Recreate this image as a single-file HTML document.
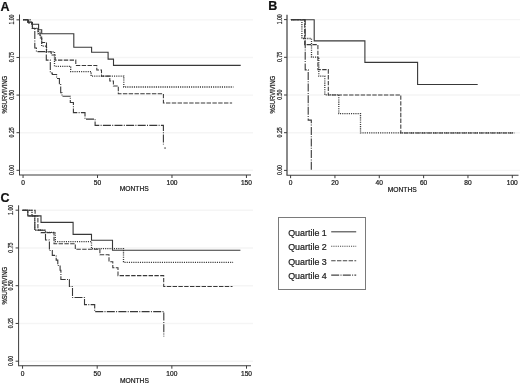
<!DOCTYPE html>
<html><head><meta charset="utf-8"><title>Survival curves</title>
<style>
html,body{margin:0;padding:0;background:#fff;width:520px;height:386px;overflow:hidden;}
svg{display:block;font-family:"Liberation Sans", sans-serif;will-change:transform;}
text{stroke:#1a1a1a;stroke-width:0.22px;}
</style></head>
<body>
<svg width="520" height="386" viewBox="0 0 520 386" font-family='"Liberation Sans", sans-serif'>
<rect width="520" height="386" fill="#fff"/>
<text x="0.6" y="11.3" font-size="12.5" font-weight="bold" fill="#111">A</text>
<line x1="20.0" y1="19.85" x2="253" y2="19.85" stroke="#f5f5f5" stroke-width="1.4"/>
<line x1="20.0" y1="57.46" x2="253" y2="57.46" stroke="#f5f5f5" stroke-width="1.4"/>
<line x1="20.0" y1="95.08" x2="253" y2="95.08" stroke="#f5f5f5" stroke-width="1.4"/>
<line x1="20.0" y1="132.69" x2="253" y2="132.69" stroke="#f5f5f5" stroke-width="1.4"/>
<line x1="20.0" y1="170.30" x2="253" y2="170.30" stroke="#f5f5f5" stroke-width="1.4"/>
<line x1="19.5" y1="14.5" x2="19.5" y2="175.0" stroke="#3c3c3c" stroke-width="1.0"/>
<line x1="19.0" y1="175.0" x2="251" y2="175.0" stroke="#3c3c3c" stroke-width="1.1"/>
<line x1="16.5" y1="19.85" x2="19.5" y2="19.85" stroke="#3c3c3c" stroke-width="1"/>
<text transform="translate(13.9 19.55) rotate(-90)" text-anchor="middle" font-size="6.9" fill="#1a1a1a" textLength="10" lengthAdjust="spacingAndGlyphs">1.00</text>
<line x1="16.5" y1="57.46" x2="19.5" y2="57.46" stroke="#3c3c3c" stroke-width="1"/>
<text transform="translate(13.9 57.16) rotate(-90)" text-anchor="middle" font-size="6.9" fill="#1a1a1a" textLength="10" lengthAdjust="spacingAndGlyphs">0.75</text>
<line x1="16.5" y1="95.08" x2="19.5" y2="95.08" stroke="#3c3c3c" stroke-width="1"/>
<text transform="translate(13.9 94.78) rotate(-90)" text-anchor="middle" font-size="6.9" fill="#1a1a1a" textLength="10" lengthAdjust="spacingAndGlyphs">0.50</text>
<line x1="16.5" y1="132.69" x2="19.5" y2="132.69" stroke="#3c3c3c" stroke-width="1"/>
<text transform="translate(13.9 132.39) rotate(-90)" text-anchor="middle" font-size="6.9" fill="#1a1a1a" textLength="10" lengthAdjust="spacingAndGlyphs">0.25</text>
<line x1="16.5" y1="170.30" x2="19.5" y2="170.30" stroke="#3c3c3c" stroke-width="1"/>
<text transform="translate(13.9 170.00) rotate(-90)" text-anchor="middle" font-size="6.9" fill="#1a1a1a" textLength="10" lengthAdjust="spacingAndGlyphs">0.00</text>
<line x1="23.05" y1="175.0" x2="23.05" y2="178.0" stroke="#3c3c3c" stroke-width="1"/>
<text x="23.05" y="185.0" text-anchor="middle" font-size="6.6" fill="#1a1a1a">0</text>
<line x1="97.52" y1="175.0" x2="97.52" y2="178.0" stroke="#3c3c3c" stroke-width="1"/>
<text x="97.52" y="185.0" text-anchor="middle" font-size="6.6" fill="#1a1a1a">50</text>
<line x1="171.98" y1="175.0" x2="171.98" y2="178.0" stroke="#3c3c3c" stroke-width="1"/>
<text x="171.98" y="185.0" text-anchor="middle" font-size="6.6" fill="#1a1a1a">100</text>
<line x1="246.45" y1="175.0" x2="246.45" y2="178.0" stroke="#3c3c3c" stroke-width="1"/>
<text x="246.45" y="185.0" text-anchor="middle" font-size="6.6" fill="#1a1a1a">150</text>
<text x="134.2" y="191.4" text-anchor="middle" font-size="6.9" fill="#1a1a1a" textLength="29" lengthAdjust="spacingAndGlyphs">MONTHS</text>
<text transform="translate(7.3 94.7) rotate(-90)" text-anchor="middle" font-size="6.9" fill="#1a1a1a" textLength="37.6" lengthAdjust="spacingAndGlyphs">%SURVIVING</text>
<path d="M23.0 19.7H27.8V22.5H32.4V28.4H34.8V48.0H36.4V51.6H46.3V60.1H50.3V73.0H52.3V74.5H56.6V78.5H59.4V83.7H60.7V92.7H62.0V96.2H70.3V102.5H73.4V112.6H85.0V119.1H95.1V125.4H163.4V144.5" fill="none" stroke="#383838" stroke-width="1.1" stroke-dasharray="8 1.3 1 1.3" stroke-linejoin="miter" stroke-linecap="butt"/>
<path d="M23.0 19.7H28.5V23.0H32.4V28.4H38.0V32.0H40.0V37.0H41.7V42.5H46.5V51.8H51.2V55.0H55.2V60.1H75.8V65.4H96.8V69.9H101.5V76.1H109.8V81.0H113.4V86.0H118.3V93.8H163.4V102.9H232.1" fill="none" stroke="#383838" stroke-width="1.05" stroke-dasharray="4.4 1.4" stroke-linejoin="miter" stroke-linecap="butt"/>
<path d="M23.0 19.7H30.0V22.5H32.4V28.4H38.3V34.0H40.5V39.0H41.7V46.2H46.5V51.8H54.5V66.3H70.7V71.6H91.1V76.1H123.8V87.0H233.4" fill="none" stroke="#383838" stroke-width="1.3" stroke-dasharray="1.1 1.1" stroke-linejoin="miter" stroke-linecap="butt"/>
<path d="M23.0 19.7H27.8V22.0H31.6V24.2H38.6V29.8H41.7V33.7H73.8V47.3H91.6V52.3H108.1V59.1H113.5V65.4H240.7" fill="none" stroke="#383838" stroke-width="1.1" stroke-linejoin="miter" stroke-linecap="butt"/>
<rect x="164.4" y="147.4" width="1.3" height="1.3" fill="#383838"/>
<text x="268.2" y="10.1" font-size="12.5" font-weight="bold" fill="#111">B</text>
<line x1="287.5" y1="19.60" x2="520.5" y2="19.60" stroke="#f5f5f5" stroke-width="1.4"/>
<line x1="287.5" y1="57.30" x2="520.5" y2="57.30" stroke="#f5f5f5" stroke-width="1.4"/>
<line x1="287.5" y1="95.00" x2="520.5" y2="95.00" stroke="#f5f5f5" stroke-width="1.4"/>
<line x1="287.5" y1="132.70" x2="520.5" y2="132.70" stroke="#f5f5f5" stroke-width="1.4"/>
<line x1="287.5" y1="170.40" x2="520.5" y2="170.40" stroke="#f5f5f5" stroke-width="1.4"/>
<line x1="287.0" y1="14.7" x2="287.0" y2="175.2" stroke="#3c3c3c" stroke-width="1.2"/>
<line x1="286.5" y1="175.2" x2="518.5" y2="175.2" stroke="#3c3c3c" stroke-width="1.1"/>
<line x1="284.0" y1="19.60" x2="287.0" y2="19.60" stroke="#3c3c3c" stroke-width="1"/>
<text transform="translate(281.7 19.30) rotate(-90)" text-anchor="middle" font-size="6.9" fill="#1a1a1a" textLength="10" lengthAdjust="spacingAndGlyphs">1.00</text>
<line x1="284.0" y1="57.30" x2="287.0" y2="57.30" stroke="#3c3c3c" stroke-width="1"/>
<text transform="translate(281.7 57.00) rotate(-90)" text-anchor="middle" font-size="6.9" fill="#1a1a1a" textLength="10" lengthAdjust="spacingAndGlyphs">0.75</text>
<line x1="284.0" y1="95.00" x2="287.0" y2="95.00" stroke="#3c3c3c" stroke-width="1"/>
<text transform="translate(281.7 94.70) rotate(-90)" text-anchor="middle" font-size="6.9" fill="#1a1a1a" textLength="10" lengthAdjust="spacingAndGlyphs">0.50</text>
<line x1="284.0" y1="132.70" x2="287.0" y2="132.70" stroke="#3c3c3c" stroke-width="1"/>
<text transform="translate(281.7 132.40) rotate(-90)" text-anchor="middle" font-size="6.9" fill="#1a1a1a" textLength="10" lengthAdjust="spacingAndGlyphs">0.25</text>
<line x1="284.0" y1="170.40" x2="287.0" y2="170.40" stroke="#3c3c3c" stroke-width="1"/>
<text transform="translate(281.7 170.10) rotate(-90)" text-anchor="middle" font-size="6.9" fill="#1a1a1a" textLength="10" lengthAdjust="spacingAndGlyphs">0.00</text>
<line x1="290.6" y1="175.2" x2="290.6" y2="178.2" stroke="#3c3c3c" stroke-width="1"/>
<text x="290.6" y="185.39999999999998" text-anchor="middle" font-size="6.6" fill="#1a1a1a">0</text>
<line x1="334.94" y1="175.2" x2="334.94" y2="178.2" stroke="#3c3c3c" stroke-width="1"/>
<text x="334.94" y="185.39999999999998" text-anchor="middle" font-size="6.6" fill="#1a1a1a">20</text>
<line x1="379.28" y1="175.2" x2="379.28" y2="178.2" stroke="#3c3c3c" stroke-width="1"/>
<text x="379.28" y="185.39999999999998" text-anchor="middle" font-size="6.6" fill="#1a1a1a">40</text>
<line x1="423.62" y1="175.2" x2="423.62" y2="178.2" stroke="#3c3c3c" stroke-width="1"/>
<text x="423.62" y="185.39999999999998" text-anchor="middle" font-size="6.6" fill="#1a1a1a">60</text>
<line x1="467.96" y1="175.2" x2="467.96" y2="178.2" stroke="#3c3c3c" stroke-width="1"/>
<text x="467.96" y="185.39999999999998" text-anchor="middle" font-size="6.6" fill="#1a1a1a">80</text>
<line x1="512.3" y1="175.2" x2="512.3" y2="178.2" stroke="#3c3c3c" stroke-width="1"/>
<text x="512.3" y="185.39999999999998" text-anchor="middle" font-size="6.6" fill="#1a1a1a">100</text>
<text x="402.2" y="191.79999999999998" text-anchor="middle" font-size="6.9" fill="#1a1a1a" textLength="29" lengthAdjust="spacingAndGlyphs">MONTHS</text>
<text transform="translate(274.8 94.6) rotate(-90)" text-anchor="middle" font-size="6.9" fill="#1a1a1a" textLength="37.6" lengthAdjust="spacingAndGlyphs">%SURVIVING</text>
<path d="M290.9 19.7H305.2V69.9H308.2V120.1H311.3V170.4" fill="none" stroke="#383838" stroke-width="1.1" stroke-dasharray="8 1.3 1 1.3" stroke-linejoin="miter" stroke-linecap="butt"/>
<path d="M290.9 19.7H304.7V44.6H317.9V69.6H328.3V94.9H400.8V132.9H514.4" fill="none" stroke="#383838" stroke-width="1.05" stroke-dasharray="4.4 1.4" stroke-linejoin="miter" stroke-linecap="butt"/>
<path d="M290.9 19.7H301.9V38.5H311.5V57.2H318.8V76.2H324.8V94.9H338.8V113.6H360.5V132.9H514.4" fill="none" stroke="#383838" stroke-width="1.3" stroke-dasharray="1.1 1.1" stroke-linejoin="miter" stroke-linecap="butt"/>
<path d="M290.9 19.7H314.2V40.9H364.9V62.4H417.6V84.5H477.7" fill="none" stroke="#383838" stroke-width="1.1" stroke-linejoin="miter" stroke-linecap="butt"/>
<text x="0.6" y="202.2" font-size="12.5" font-weight="bold" fill="#111">C</text>
<line x1="19.1" y1="210.20" x2="253" y2="210.20" stroke="#f5f5f5" stroke-width="1.4"/>
<line x1="19.1" y1="247.95" x2="253" y2="247.95" stroke="#f5f5f5" stroke-width="1.4"/>
<line x1="19.1" y1="285.70" x2="253" y2="285.70" stroke="#f5f5f5" stroke-width="1.4"/>
<line x1="19.1" y1="323.45" x2="253" y2="323.45" stroke="#f5f5f5" stroke-width="1.4"/>
<line x1="19.1" y1="361.20" x2="253" y2="361.20" stroke="#f5f5f5" stroke-width="1.4"/>
<line x1="18.6" y1="205.3" x2="18.6" y2="365.7" stroke="#3c3c3c" stroke-width="1.0"/>
<line x1="18.1" y1="365.7" x2="251" y2="365.7" stroke="#3c3c3c" stroke-width="1.1"/>
<line x1="15.600000000000001" y1="210.20" x2="18.6" y2="210.20" stroke="#3c3c3c" stroke-width="1"/>
<text transform="translate(13.3 209.90) rotate(-90)" text-anchor="middle" font-size="6.9" fill="#1a1a1a" textLength="10" lengthAdjust="spacingAndGlyphs">1.00</text>
<line x1="15.600000000000001" y1="247.95" x2="18.6" y2="247.95" stroke="#3c3c3c" stroke-width="1"/>
<text transform="translate(13.3 247.65) rotate(-90)" text-anchor="middle" font-size="6.9" fill="#1a1a1a" textLength="10" lengthAdjust="spacingAndGlyphs">0.75</text>
<line x1="15.600000000000001" y1="285.70" x2="18.6" y2="285.70" stroke="#3c3c3c" stroke-width="1"/>
<text transform="translate(13.3 285.40) rotate(-90)" text-anchor="middle" font-size="6.9" fill="#1a1a1a" textLength="10" lengthAdjust="spacingAndGlyphs">0.50</text>
<line x1="15.600000000000001" y1="323.45" x2="18.6" y2="323.45" stroke="#3c3c3c" stroke-width="1"/>
<text transform="translate(13.3 323.15) rotate(-90)" text-anchor="middle" font-size="6.9" fill="#1a1a1a" textLength="10" lengthAdjust="spacingAndGlyphs">0.25</text>
<line x1="15.600000000000001" y1="361.20" x2="18.6" y2="361.20" stroke="#3c3c3c" stroke-width="1"/>
<text transform="translate(13.3 360.90) rotate(-90)" text-anchor="middle" font-size="6.9" fill="#1a1a1a" textLength="10" lengthAdjust="spacingAndGlyphs">0.00</text>
<line x1="22.55" y1="365.7" x2="22.55" y2="368.7" stroke="#3c3c3c" stroke-width="1"/>
<text x="22.55" y="376.4" text-anchor="middle" font-size="6.6" fill="#1a1a1a">0</text>
<line x1="97.2" y1="365.7" x2="97.2" y2="368.7" stroke="#3c3c3c" stroke-width="1"/>
<text x="97.2" y="376.4" text-anchor="middle" font-size="6.6" fill="#1a1a1a">50</text>
<line x1="171.85" y1="365.7" x2="171.85" y2="368.7" stroke="#3c3c3c" stroke-width="1"/>
<text x="171.85" y="376.4" text-anchor="middle" font-size="6.6" fill="#1a1a1a">100</text>
<line x1="246.5" y1="365.7" x2="246.5" y2="368.7" stroke="#3c3c3c" stroke-width="1"/>
<text x="246.5" y="376.4" text-anchor="middle" font-size="6.6" fill="#1a1a1a">150</text>
<text x="134.4" y="382.8" text-anchor="middle" font-size="6.9" fill="#1a1a1a" textLength="29" lengthAdjust="spacingAndGlyphs">MONTHS</text>
<text transform="translate(7.0 285.8) rotate(-90)" text-anchor="middle" font-size="6.9" fill="#1a1a1a" textLength="37.6" lengthAdjust="spacingAndGlyphs">%SURVIVING</text>
<path d="M22.5 210.3H27.8V216.0H34.8V230.2H45.5V240.0H49.4V250.5H52.3V255.4H56.2V260.1H57.8V265.5H60.1V270.2H60.9V279.5H69.4V286.5H72.5V297.5H84.5V304.6H94.7V311.6H163.8V336.6" fill="none" stroke="#383838" stroke-width="1.1" stroke-dasharray="8 1.3 1 1.3" stroke-linejoin="miter" stroke-linecap="butt"/>
<path d="M22.5 210.3H35.1V216.0H37.9V230.0H41.0V232.6H54.0V243.8H75.3V249.2H99.9V254.8H109.0V261.7H112.8V267.8H118.0V275.6H163.7V286.4H232.5" fill="none" stroke="#383838" stroke-width="1.05" stroke-dasharray="4.4 1.4" stroke-linejoin="miter" stroke-linecap="butt"/>
<path d="M22.5 210.3H32.0V216.0H34.8V230.2H45.5V232.4H55.3V241.7H91.5V248.7H123.5V262.3H233.1" fill="none" stroke="#383838" stroke-width="1.3" stroke-dasharray="1.1 1.1" stroke-linejoin="miter" stroke-linecap="butt"/>
<path d="M22.5 210.3H27.8V215.9H41.0V222.4H73.1V234.4H91.5V240.3H112.5V250.3H240.4" fill="none" stroke="#383838" stroke-width="1.1" stroke-linejoin="miter" stroke-linecap="butt"/>
<rect x="278.5" y="217.5" width="87" height="72" fill="none" stroke="#7a7a7a" stroke-width="1"/>
<text x="288.2" y="235.6" font-size="9.3" fill="#222" textLength="38.6" lengthAdjust="spacingAndGlyphs">Quartile 1</text>
<line x1="331.2" y1="231.8" x2="356.2" y2="231.8" stroke="#444" stroke-width="1.1"/>
<text x="288.2" y="250.1" font-size="9.3" fill="#222" textLength="38.6" lengthAdjust="spacingAndGlyphs">Quartile 2</text>
<line x1="331.2" y1="246.3" x2="356.2" y2="246.3" stroke="#444" stroke-width="1.1" stroke-dasharray="1.1 1.1"/>
<text x="288.2" y="264.5" font-size="9.3" fill="#222" textLength="38.6" lengthAdjust="spacingAndGlyphs">Quartile 3</text>
<line x1="331.2" y1="260.7" x2="356.2" y2="260.7" stroke="#444" stroke-width="1.1" stroke-dasharray="4.4 1.4"/>
<text x="288.2" y="278.9" font-size="9.3" fill="#222" textLength="38.6" lengthAdjust="spacingAndGlyphs">Quartile 4</text>
<line x1="331.2" y1="275.1" x2="356.2" y2="275.1" stroke="#444" stroke-width="1.1" stroke-dasharray="8 1.3 1 1.3"/>
</svg>
</body></html>
